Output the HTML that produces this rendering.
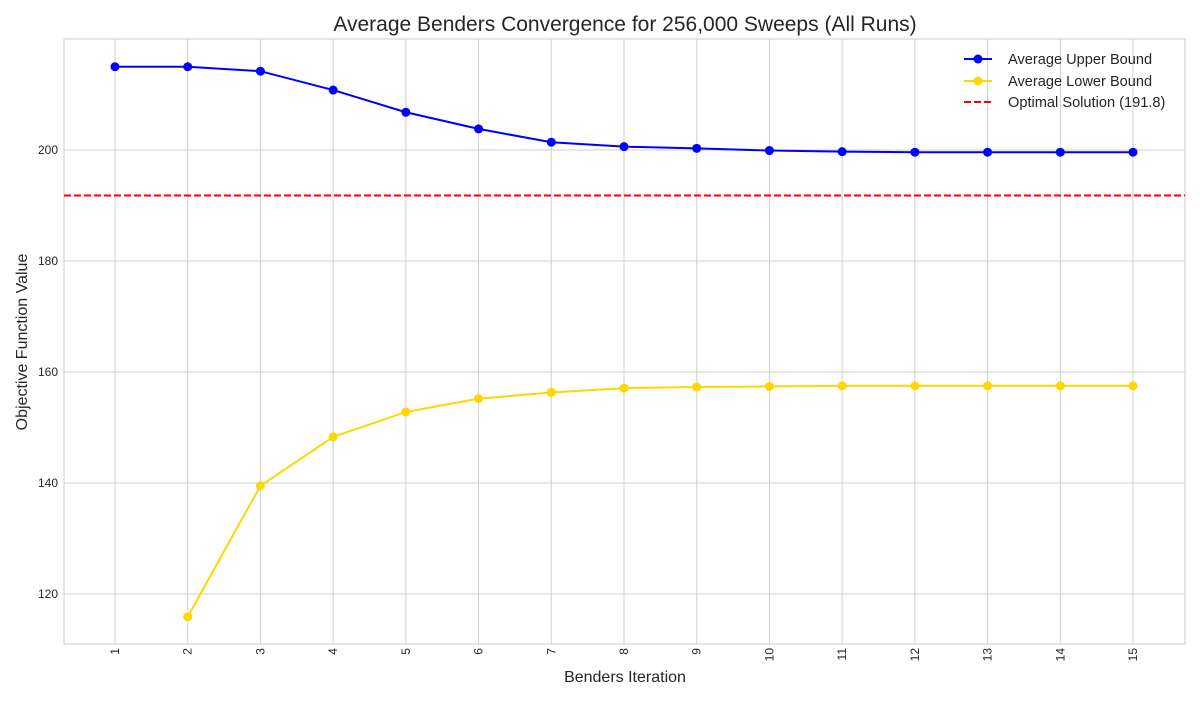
<!DOCTYPE html>
<html><head><meta charset="utf-8"><style>
body{margin:0;background:#fff;font-family:"Liberation Sans","DejaVu Sans",sans-serif;}
svg text{font-family:"Liberation Sans","DejaVu Sans",sans-serif;fill:#262626;}
</style></head><body>
<svg id="chart" width="1200" height="700" xmlns="http://www.w3.org/2000/svg">
<rect x="0" y="0" width="1200" height="700" fill="#fff"/>
<text x="625" y="31" font-size="21" text-anchor="middle">Average Benders Convergence for 256,000 Sweeps (All Runs)</text>
<g id="grid"></g>
<rect x="64" y="39" width="1121" height="605" fill="none" stroke="#ccc" stroke-width="1"/>
<g id="ticks"></g>
<g id="series"></g>
<text x="625" y="682" font-size="16" text-anchor="middle">Benders Iteration</text>
<text transform="translate(27,342) rotate(-90)" font-size="16" text-anchor="middle">Objective Function Value</text>
<g>
<line x1="964" y1="59" x2="992" y2="59" stroke="#0000ff" stroke-width="2"/><circle cx="978" cy="59" r="4.5" fill="#0000ff"/>
<text x="1008" y="64" font-size="14.6">Average Upper Bound</text>
<line x1="964" y1="81" x2="992" y2="81" stroke="#ffd700" stroke-width="2"/><circle cx="978" cy="81" r="4.5" fill="#ffd700"/>
<text x="1008" y="86" font-size="14.6">Average Lower Bound</text>
<line x1="964" y1="102" x2="992" y2="102" stroke="#ff0000" stroke-width="2" stroke-dasharray="7,3"/>
<text x="1008" y="107" font-size="14.6">Optimal Solution (191.8)</text>
</g>
</svg>
<script>
const iterations=[1,2,3,4,5,6,7,8,9,10,11,12,13,14,15];
const upperBound=[215.0,215.0,214.2,210.8,206.8,203.8,201.4,200.6,200.3,199.9,199.7,199.6,199.6,199.6,199.6];
const lowerIters=[2,3,4,5,6,7,8,9,10,11,12,13,14,15];
const lowerBound=[115.9,139.5,148.3,152.8,155.2,156.3,157.1,157.3,157.4,157.5,157.5,157.5,157.5,157.5];
const optimal=191.8;
const yTicks=[120,140,160,180,200];
const NS="http://www.w3.org/2000/svg";
const L=64,R=1185,T=39,B=644;
const xs=v=>115+(v-1)*(1133-115)/14;
const ys=v=>150+(200-v)*(594-150)/80;
function mk(t,a,p){const e=document.createElementNS(NS,t);for(const k in a)e.setAttribute(k,a[k]);p.appendChild(e);return e;}
const grid=document.getElementById('grid'),ticks=document.getElementById('ticks'),ser=document.getElementById('series');
iterations.forEach(v=>{
 const g=mk('line',{x1:xs(v),x2:xs(v),y1:T,y2:B,stroke:'#d0d0d0','stroke-width':1},grid);
 
 
 const t=mk('text',{transform:`translate(${xs(v)+4},${B+4}) rotate(-90)`,'font-size':12,'text-anchor':'end'},ticks);
 t.textContent=v;
 
 
});
yTicks.forEach(v=>{
 const g=mk('line',{x1:L,x2:R,y1:ys(v),y2:ys(v),stroke:'#d0d0d0','stroke-width':1},grid);
 
 
 const t=mk('text',{x:L-6,y:ys(v)+4,'font-size':12,'text-anchor':'end'},ticks);
 t.textContent=v;
 
 
});
const opt=mk('line',{x1:L,x2:R,y1:ys(optimal),y2:ys(optimal),stroke:'#ff0000','stroke-width':2,'stroke-dasharray':'7,3'},ser);


function series(xv,yv,color,name){
 const p=mk('polyline',{points:xv.map((x,i)=>xs(x)+','+ys(yv[i])).join(' '),fill:'none',stroke:color,'stroke-width':2},ser);
 
 
 xv.forEach((x,i)=>{
  const c=mk('circle',{cx:xs(x),cy:ys(yv[i]),r:4.5,fill:color},ser);
  
  
 });
}
series(iterations,upperBound,'#0000ff','upper-bound');
series(lowerIters,lowerBound,'#ffd700','lower-bound');
</script>
</body></html>
